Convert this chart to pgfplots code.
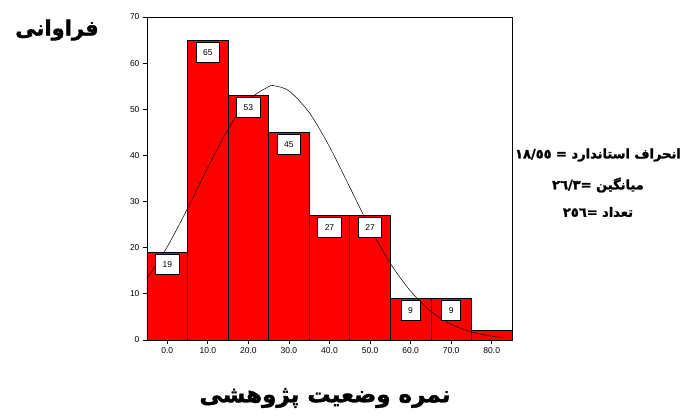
\documentclass[border=0pt]{standalone}
\usepackage{fontspec}
\setmainfont{Liberation Sans}
\newfontfamily\fa[Script=Arabic, BoldFeatures={FakeBold=1.6}]{DejaVu Sans}
\TeXXeTstate=1
\usepackage{pgfplots}
\pgfplotsset{compat=1.18}

\begin{document}
\begin{tikzpicture}
\begin{axis}[
  scale only axis,
  width=365pt, height=323pt,
  xmin=-5, xmax=85, ymin=0, ymax=70,
  xtick={0,10,...,80},
  xticklabels={0.0,10.0,20.0,30.0,40.0,50.0,60.0,70.0,80.0},
  ytick={0,10,...,70},
  tick align=outside,
  xtick pos=bottom, ytick pos=left,
  major tick length=4pt,
  tick style={black, line width=0.8pt},
  axis line style={line width=0.8pt},
  tick label style={font=\fontsize{8.5}{10}\selectfont},
  /pgf/number format/assume math mode=true,
  clip=false,
]
% frequencies, bins of 10 centred on 0,10,...,80
\addplot[ybar interval, fill=red, draw=black, line width=0.7pt] coordinates {
  (-5,19) (5,65) (15,53) (25,45) (35,27) (45,27) (55,9) (65,9) (75,2) (85,2)
};
% normal curve, mean 26.3, sd 18.55, n=256
\addplot[black, line width=0.5pt, smooth, mark=none] coordinates {
  (-5,13.3) (0,20.2) (5,28.5) (10,37.4) (15,45.7) (20,52.0) (25,54.9)
  (26.3,55.1) (30,54.0) (35,49.3) (40,41.9) (45,33.1) (50,24.3)
  (55,16.6) (60,10.6) (65,6.2) (70,3.4) (75,1.75) (80,0.83) (83,0.52)
};
% count labels
\addplot[draw=none, mark=none, nodes near coords, point meta=explicit symbolic,
  every node near coord/.style={anchor=north, draw=black, fill=white, line width=0.7pt,
    minimum height=20pt, inner xsep=7pt, inner ysep=0pt, yshift=-2pt,
    font=\fontsize{8.5}{10}\selectfont}]
  coordinates {
  (0,19) [19] (10,65) [65] (20,53) [53] (30,45) [45] (40,27) [27]
  (50,27) [27] (60,9) [9] (70,9) [9]
};
\end{axis}
\path (-147pt,-76pt) rectangle (539pt,340pt);
\node[font=\fa\bfseries\fontsize{21}{24}\selectfont] at (-90pt,310pt) {\beginR فراوانی\endR};
\node[font=\fa\bfseries\fontsize{23}{26}\selectfont] at (178pt,-58pt) {\beginR نمره وضعیت پژوهشی\endR};
\node[font=\fa\bfseries\fontsize{13}{15}\selectfont] at (451pt,185pt) {\beginR انحراف استاندارد = \beginL ١٨/٥٥\endL\endR};
\node[font=\fa\bfseries\fontsize{13}{15}\selectfont] at (451pt,155pt) {\beginR میانگین =\beginL ٢٦/٣\endL\endR};
\node[font=\fa\bfseries\fontsize{13}{15}\selectfont] at (451pt,128pt) {\beginR تعداد =\beginL ٢٥٦\endL\endR};
\end{tikzpicture}
\end{document}
